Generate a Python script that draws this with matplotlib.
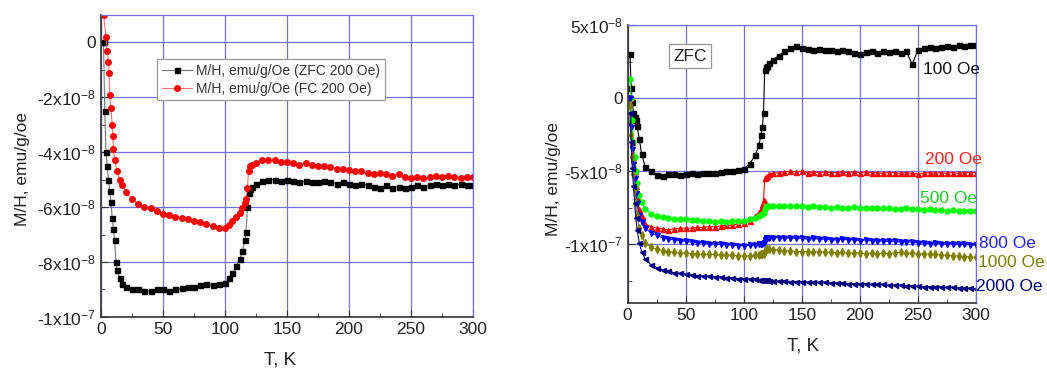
import matplotlib
matplotlib.use("Agg")
import matplotlib.pyplot as plt
from matplotlib.ticker import MultipleLocator, FixedLocator

plt.rcParams['font.family'] = ['Liberation Sans', 'DejaVu Sans']
plt.rcParams['mathtext.default'] = 'regular'

# ---- left panel: ZFC / FC at 200 Oe (values in 1e-8 emu/g/Oe) ----
T_zfc = [2, 3, 4, 5, 6, 7, 8, 9, 10, 11, 12, 13, 15, 17, 20,
         25, 30, 35, 40, 45, 50, 55, 60, 65, 70, 75, 80, 85, 90, 95, 100,
         103, 106, 109, 112, 114, 116, 117, 118, 119, 120, 122, 125,
         130, 135, 140, 145, 150, 155, 160, 165, 170, 175, 180, 185, 190, 195,
         200, 205, 210, 215, 220, 225, 230, 235, 240, 245, 250, 255, 260, 265,
         270, 275, 280, 285, 290, 295, 300]
zfc_200 = [0.0, -2.5, -4.0, -4.5, -5.0, -5.4, -5.8, -6.4, -6.8, -7.2, -8.0, -8.3, -8.6, -8.8, -8.9,
           -9.0, -9.0, -9.05, -9.05, -9.0, -9.0, -9.05, -9.0, -8.95, -8.9, -8.9, -8.85, -8.8, -8.85, -8.8, -8.75,
           -8.6, -8.4, -8.15, -7.9, -7.6, -7.2, -6.9, -6.0, -5.5, -5.35, -5.25, -5.15,
           -5.05, -5.0, -5.0, -5.05, -5.0, -5.05, -5.1, -5.05, -5.1, -5.1, -5.05, -5.1, -5.15, -5.1,
           -5.15, -5.2, -5.15, -5.2, -5.25, -5.3, -5.2, -5.3, -5.25, -5.3, -5.25, -5.2, -5.25, -5.2,
           -5.15, -5.2, -5.15, -5.2, -5.15, -5.2, -5.2]

T_fc = [2, 4, 5, 6, 6.5, 7, 8, 9, 9.5, 10, 11, 13, 15, 17, 20,
        25, 30, 35, 40, 45, 50, 55, 60, 65, 70, 75, 80, 85, 90, 95, 100,
        103, 106, 109, 112, 114, 116, 117, 118, 119, 120, 122, 125,
        130, 135, 140, 145, 150, 155, 160, 165, 170, 175, 180, 185, 190, 195,
        200, 205, 210, 215, 220, 225, 230, 235, 240, 245, 250, 255, 260, 265,
        270, 275, 280, 285, 290, 295, 300]
fc_200 = [1.0, 0.2, -0.3, -0.7, -1.1, -1.9, -2.4, -3.0, -3.4, -3.9, -4.3, -4.7, -5.0, -5.2, -5.45,
          -5.7, -5.9, -6.0, -6.05, -6.15, -6.25, -6.3, -6.35, -6.4, -6.45, -6.5, -6.55, -6.6, -6.7, -6.75, -6.75,
          -6.65, -6.5, -6.35, -6.2, -6.05, -5.85, -5.7, -5.3, -4.7, -4.5, -4.45, -4.4,
          -4.3, -4.3, -4.3, -4.35, -4.35, -4.4, -4.45, -4.4, -4.45, -4.5, -4.5, -4.55, -4.6, -4.6,
          -4.65, -4.7, -4.7, -4.75, -4.8, -4.75, -4.8, -4.85, -4.8, -4.9, -4.95, -4.9, -4.95, -4.9,
          -4.85, -4.9, -4.85, -4.9, -4.95, -4.9, -4.9]

# ---- right panel: ZFC at several fields (values in 1e-8 emu/g/Oe) ----
T_r = [2, 3, 4, 5, 6, 7, 8, 10, 12, 15, 20,
       25, 30, 35, 40, 45, 50, 55, 60, 65, 70, 75, 80, 85, 90, 95, 100,
       105, 110, 113, 115, 116, 117, 118, 119, 120, 122, 125,
       130, 135, 140, 145, 150, 155, 160, 165, 170, 175, 180, 185, 190, 195,
       200, 205, 210, 215, 220, 225, 230, 235, 240, 245, 250, 255, 260, 265,
       270, 275, 280, 285, 290, 295, 300]

h100 = [3.0, 0.7, -0.3, -1.0, -1.3, -1.5, -1.9, -2.8, -3.8, -4.7, -5.0,
        -5.25, -5.3, -5.2, -5.2, -5.25, -5.2, -5.15, -5.2, -5.1, -5.15, -5.1, -5.05, -5.0, -5.0, -4.95, -4.85,
        -4.5, -3.9, -3.2, -2.5, -2.0, -1.0, 1.9, 2.1, 2.2, 2.4, 2.6,
        2.9, 3.2, 3.4, 3.55, 3.4, 3.35, 3.3, 3.35, 3.3, 3.3, 3.25, 3.3, 3.2, 3.1,
        3.0, 3.15, 3.2, 3.1, 3.2, 3.15, 3.2, 3.1, 3.2, 2.3, 3.3, 3.4, 3.5, 3.45,
        3.5, 3.55, 3.5, 3.6, 3.55, 3.6, 3.6]
h200 = [0.0, -1.5, -3.0, -4.0, -5.0, -6.0, -6.8, -7.6, -8.1, -8.6, -8.8,
        -8.9, -8.95, -9.0, -8.95, -8.9, -8.9, -8.9, -8.85, -8.85, -8.8, -8.8, -8.75, -8.7, -8.7, -8.6, -8.55,
        -8.4, -8.1, -7.8, -7.6, -7.3, -7.0, -5.5, -5.4, -5.35, -5.2, -5.15,
        -5.1, -5.05, -5.0, -5.05, -5.0, -5.1, -5.05, -5.1, -5.05, -5.1, -5.1, -5.05, -5.1, -5.05,
        -5.1, -5.05, -5.1, -5.1, -5.15, -5.1, -5.1, -5.15, -5.1, -5.15, -5.2, -5.15, -5.1, -5.15,
        -5.1, -5.15, -5.1, -5.15, -5.1, -5.1, -5.1]
h500 = [1.3, 0.0, -1.5, -3.0, -4.0, -5.0, -5.8, -6.6, -7.1, -7.6, -7.9,
        -8.05, -8.15, -8.2, -8.25, -8.3, -8.3, -8.35, -8.35, -8.4, -8.4, -8.45, -8.4, -8.45, -8.4, -8.4, -8.4,
        -8.3, -8.2, -8.1, -8.0, -7.9, -7.85, -7.6, -7.45, -7.4, -7.4, -7.35,
        -7.35, -7.4, -7.35, -7.4, -7.4, -7.45, -7.4, -7.45, -7.45, -7.5, -7.45, -7.5, -7.5, -7.45,
        -7.5, -7.5, -7.55, -7.5, -7.55, -7.55, -7.6, -7.6, -7.55, -7.6, -7.6, -7.65, -7.6, -7.65,
        -7.65, -7.7, -7.65, -7.7, -7.7, -7.7, -7.7]
h800 = [0.0, -2.0, -3.5, -4.5, -5.5, -6.5, -7.2, -8.0, -8.5, -8.9, -9.2,
        -9.4, -9.55, -9.65, -9.7, -9.75, -9.8, -9.85, -9.9, -9.9, -9.95, -10.0, -10.0, -10.05, -10.05, -10.1, -10.1,
        -10.05, -10.05, -10.0, -10.0, -9.95, -9.9, -9.7, -9.6, -9.55, -9.55, -9.55,
        -9.55, -9.6, -9.55, -9.6, -9.6, -9.65, -9.6, -9.65, -9.65, -9.7, -9.7, -9.65, -9.7, -9.7,
        -9.75, -9.7, -9.75, -9.75, -9.8, -9.8, -9.8, -9.85, -9.85, -9.85, -9.9, -9.9, -9.95, -9.9,
        -9.95, -10.0, -9.95, -10.0, -10.0, -10.05, -10.05]
h1000 = [-0.5, -2.5, -4.0, -5.2, -6.2, -7.2, -8.0, -8.9, -9.4, -9.9, -10.2,
         -10.35, -10.45, -10.5, -10.55, -10.6, -10.6, -10.65, -10.65, -10.7, -10.7, -10.7, -10.75, -10.75, -10.75, -10.8, -10.8,
         -10.8, -10.75, -10.75, -10.7, -10.7, -10.65, -10.45, -10.35, -10.3, -10.35, -10.4,
         -10.4, -10.45, -10.45, -10.5, -10.5, -10.5, -10.55, -10.5, -10.55, -10.55, -10.6, -10.55, -10.6, -10.6,
         -10.6, -10.65, -10.6, -10.65, -10.6, -10.65, -10.6, -10.55, -10.6, -10.6, -10.65, -10.65, -10.7, -10.7,
         -10.75, -10.75, -10.8, -10.8, -10.85, -10.85, -10.9]
h2000 = [-1.0, -3.0, -4.8, -6.0, -7.2, -8.2, -9.0, -9.9, -10.5, -11.0, -11.4,
         -11.6, -11.75, -11.85, -11.95, -12.0, -12.05, -12.1, -12.15, -12.2, -12.2, -12.25, -12.25, -12.3, -12.3, -12.35, -12.35,
         -12.4, -12.4, -12.45, -12.45, -12.45, -12.45, -12.45, -12.45, -12.45, -12.5, -12.5,
         -12.5, -12.5, -12.55, -12.55, -12.55, -12.6, -12.6, -12.6, -12.6, -12.65, -12.65, -12.65, -12.7, -12.7,
         -12.7, -12.7, -12.75, -12.75, -12.75, -12.8, -12.8, -12.8, -12.85, -12.85, -12.85, -12.9, -12.9, -12.9,
         -12.9, -12.95, -12.95, -13.0, -13.0, -13.0, -13.05]

field_labels = ['100 Oe', '200 Oe', '500 Oe', '800 Oe', '1000 Oe', '2000 Oe']
field_series = [h100, h200, h500, h800, h1000, h2000]
field_colors = ['black', '#ff0000', '#00ff00', '#0000ff', '#808000', '#000080']
field_markers = ['s', '^', 'o', 'v', 'd', '<']
label_colors = ['#111111', '#ff2020', '#22cc22', '#2020ff', '#808000', '#000080']
label_pos = [(254, 1.95), (256, -4.2), (252, -6.9), (302.5, -9.95), (302, -11.25), (300, -12.9)]

grid_col = '#7070e0'
scale = 1e-8


def style_axes(ax, yticks, ylabels):
    ax.set_xlim(0, 300)
    ax.xaxis.set_major_locator(MultipleLocator(50))
    ax.xaxis.set_minor_locator(MultipleLocator(25))
    ax.yaxis.set_major_locator(FixedLocator(yticks))
    ax.set_yticklabels(ylabels)
    ax.grid(True, which='major', color=grid_col, lw=0.9)
    ax.set_axisbelow(True)
    for s in ['top', 'right']:
        ax.spines[s].set_color(grid_col)
        ax.spines[s].set_linewidth(0.9)
    for s in ['left', 'bottom']:
        ax.spines[s].set_color('#333333')
        ax.spines[s].set_linewidth(1.2)
    ax.tick_params(which='both', direction='in', colors='#333333', labelsize=12.5,
                   top=False, right=False, labelcolor='#222222')
    ax.tick_params(which='major', length=5)
    ax.tick_params(which='minor', length=3)
    ax.set_xlabel('T, K', fontsize=13.5, color='#222222')
    ax.set_ylabel('M/H, emu/g/oe', fontsize=12.5, color='#222222')


fig = plt.figure(figsize=(10.47, 3.72), dpi=100)

# left
ax1 = fig.add_axes([0.0965, 0.148, 0.3553, 0.812])
ax1.plot(T_zfc, [v * scale for v in zfc_200], color='#777777', lw=0.8, marker='s', ms=3.6,
         mfc='black', mec='black', label='M/H, emu/g/Oe (ZFC 200 Oe)')
ax1.plot(T_fc, [v * scale for v in fc_200], color='#ff7070', lw=0.8, marker='o', ms=4,
         mfc='#ff0000', mec='#ff0000', label='M/H, emu/g/Oe (FC 200 Oe)')
ax1.set_ylim(-1.0e-7, 1.0e-8)
ax1.yaxis.set_minor_locator(MultipleLocator(1e-8))
style_axes(ax1, [-1e-7, -8e-8, -6e-8, -4e-8, -2e-8, 0],
           ['-1x10$^{-7}$', '-8x10$^{-8}$', '-6x10$^{-8}$', '-4x10$^{-8}$', '-2x10$^{-8}$', '0'])
ax1.xaxis.set_label_coords(0.48, -0.113)
ax1.yaxis.set_label_coords(-0.19, 0.49)
leg = ax1.legend(loc='upper left', bbox_to_anchor=(0.15, 0.853), borderaxespad=0,
                 fontsize=10, fancybox=False, framealpha=1, edgecolor='#999999',
                 handlelength=2.2, handletextpad=0.3, borderpad=0.35, labelspacing=0.25)
leg.get_frame().set_linewidth(0.9)
for t in leg.get_texts():
    t.set_color('#333333')

# right
ax2 = fig.add_axes([0.5995, 0.1863, 0.3327, 0.7465])
for vals, col, mk in zip(field_series, field_colors, field_markers):
    ax2.plot(T_r, [v * scale for v in vals], color=col, lw=0.8, marker=mk, ms=3.6,
             mfc=col, mec=col)
ax2.set_ylim(-1.4e-7, 5e-8)
ax2.yaxis.set_minor_locator(MultipleLocator(2.5e-8))
style_axes(ax2, [-1e-7, -5e-8, 0, 5e-8],
           ['-1x10$^{-7}$', '-5x10$^{-8}$', '0', '5x10$^{-8}$'])
ax2.xaxis.set_label_coords(0.503, -0.125)
ax2.yaxis.set_label_coords(-0.192, 0.445)
for lab, col, (tx, ty) in zip(field_labels, label_colors, label_pos):
    ax2.text(tx, ty * scale, lab, color=col, fontsize=12.5, ha='left', va='center')
ax2.text(0.179, 0.888, 'ZFC', transform=ax2.transAxes, fontsize=12.5, color='#222222',
         ha='center', va='center',
         bbox=dict(boxstyle='square,pad=0.25', fc='white', ec='#999999', lw=0.9))

fig.savefig('out.png', dpi=100)
